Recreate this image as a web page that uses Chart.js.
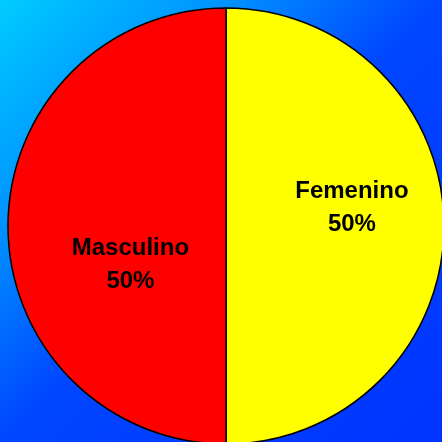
<!DOCTYPE html>
<html>
<head>
<meta charset="utf-8">
<script src="https://cdn.jsdelivr.net/npm/chart.js@4"></script>
<style>
  html, body { margin: 0; padding: 0; }
  body {
    width: 442px; height: 442px; overflow: hidden;
    background: linear-gradient(135deg, #00ccff 0%, #0094ff 25%, #0046ff 50%, #0033ff 100%);
  }
  #wrap { width: 442px; height: 442px; }
</style>
</head>
<body>
<div id="wrap"><canvas id="pieChart"></canvas></div>
<script>
// data
var categories = ['Femenino', 'Masculino'];
var values = [50, 50];
var sliceColors = ['#ffff00', '#ff0000'];

// where the labels sit: fraction of the radius along the slice middle, then a nudge in px
var labelRadius = [0.58, 0.45];
var labelShift = [[-0.5, -18], [2.5, 39]];

var pieLabels = {
  id: 'pieLabels',
  afterDatasetsDraw: function(chart) {
    var ctx = chart.ctx;
    var total = values.reduce(function(a, b) { return a + b; }, 0);
    var arcs = chart.getDatasetMeta(0).data;
    ctx.save();
    ctx.font = 'bold 24px "Liberation Sans", Arial, sans-serif';
    ctx.fillStyle = '#000';
    ctx.textAlign = 'center';
    ctx.textBaseline = 'middle';
    arcs.forEach(function(arc, i) {
      var mid = (arc.startAngle + arc.endAngle) / 2;
      var x = arc.x + Math.cos(mid) * arc.outerRadius * labelRadius[i] + labelShift[i][0];
      var y = arc.y + Math.sin(mid) * arc.outerRadius * labelRadius[i] + labelShift[i][1];
      var pct = Math.round(values[i] / total * 100) + '%';
      ctx.fillText(categories[i], x, y - 16.5);
      ctx.fillText(pct, x, y + 16.5);
    });
    ctx.restore();
  }
};

new Chart(document.getElementById('pieChart'), {
  type: 'pie',
  data: {
    labels: categories,
    datasets: [{
      data: values,
      backgroundColor: sliceColors,
      borderColor: '#000000',
      borderWidth: 1.5
    }]
  },
  options: {
    responsive: true,
    maintainAspectRatio: false,
    animation: false,
    radius: 218,
    layout: { padding: { left: 10, top: 10, right: 0, bottom: 0 } },
    plugins: {
      legend: { display: false },
      tooltip: { enabled: false }
    }
  },
  plugins: [pieLabels]
});
</script>
</body>
</html>
